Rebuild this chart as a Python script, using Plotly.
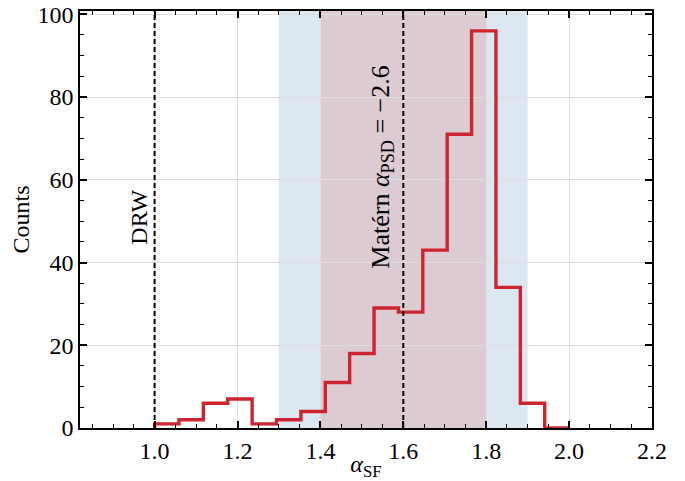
import numpy as np
import plotly.graph_objects as go

# ---- data ----
bin_min = 1.0
bin_max = 2.0
n_bins = 17
counts = [1, 2, 6, 7, 1, 2, 4, 11, 18, 29, 28, 43, 71, 96, 34, 6, 0]
drw_alpha = 1.0
matern_alpha = 1.6
outer_band = [1.3, 1.9]
inner_band = [1.4, 1.8]
x_ticks = [1.0, 1.2, 1.4, 1.6, 1.8, 2.0, 2.2]
x_tick_labels = ["1.0", "1.2", "1.4", "1.6", "1.8", "2.0", "2.2"]
y_ticks = [0, 20, 40, 60, 80, 100]

edges = np.linspace(bin_min, bin_max, n_bins + 1)
xs = [edges[0]] + list(edges)
ys = [0] + counts + [0]

FONT = "Liberation Serif"

fig = go.Figure()
fig.add_trace(go.Scatter(
    x=xs, y=ys, mode="lines", line_shape="hv",
    line=dict(color="rgb(205,36,48)", width=3.4), showlegend=False,
))

shapes = [
    dict(type="rect", xref="x", yref="paper", x0=outer_band[0], x1=outer_band[1], y0=0, y1=1,
         fillcolor="rgb(220,231,241)", line=dict(width=0), layer="below"),
    dict(type="rect", xref="x", yref="paper", x0=inner_band[0], x1=inner_band[1], y0=0, y1=1,
         fillcolor="rgb(220,203,210)", line=dict(width=0), layer="below"),
    dict(type="line", xref="x", yref="paper", x0=drw_alpha, x1=drw_alpha, y0=0, y1=1,
         line=dict(color="black", width=2, dash="5px,3px"), layer="above"),
    dict(type="line", xref="x", yref="paper", x0=matern_alpha, x1=matern_alpha, y0=0, y1=1,
         line=dict(color="black", width=2, dash="5px,3px"), layer="above"),
]

annotations = [
    dict(x=drw_alpha, y=51, xref="x", yref="y", text="DRW", textangle=-90,
         showarrow=False, xanchor="right", yanchor="middle", xshift=-1,
         font=dict(family=FONT, size=24, color="black")),
    dict(x=matern_alpha, y=63, xref="x", yref="y",
         text="Matérn <i>α</i><sub>PSD</sub> = −2.6", textangle=-90,
         showarrow=False, xanchor="right", yanchor="middle", xshift=-3,
         font=dict(family=FONT, size=26, color="black")),
]

axis_common = dict(
    showline=True, linecolor="black", linewidth=1.5, mirror="ticks",
    ticks="inside", ticklen=7, tickwidth=1.5, tickcolor="black",
    showgrid=True, gridcolor="rgb(222,222,222)", gridwidth=1,
    zeroline=False, tickfont=dict(family=FONT, size=24, color="black"),
    automargin=False, ticklabeloverflow="allow",
)

fig.update_layout(
    width=677, height=473,
    margin=dict(l=72, r=33, t=3, b=53),
    plot_bgcolor="white", paper_bgcolor="white",
    shapes=shapes, annotations=annotations,
    xaxis=dict(
        range=[0.82, 2.2], tickvals=x_ticks, ticktext=x_tick_labels,
        minor=dict(dtick=0.05, tick0=0, ticks="inside", ticklen=4, tickwidth=1.3,
                   tickcolor="black", showgrid=False),
        title=dict(text="<i>α</i><sub>SF</sub>", font=dict(family=FONT, size=24, color="black"),
                   standoff=0),
        **axis_common,
    ),
    yaxis=dict(
        range=[0, 100.8], tickvals=y_ticks,
        minor=dict(dtick=5, tick0=0, ticks="inside", ticklen=4, tickwidth=1.3,
                   tickcolor="black", showgrid=False),
        title=dict(text="Counts", font=dict(family=FONT, size=24, color="black"), standoff=8),
        **axis_common,
    ),
)

fig.write_html("out.html")
